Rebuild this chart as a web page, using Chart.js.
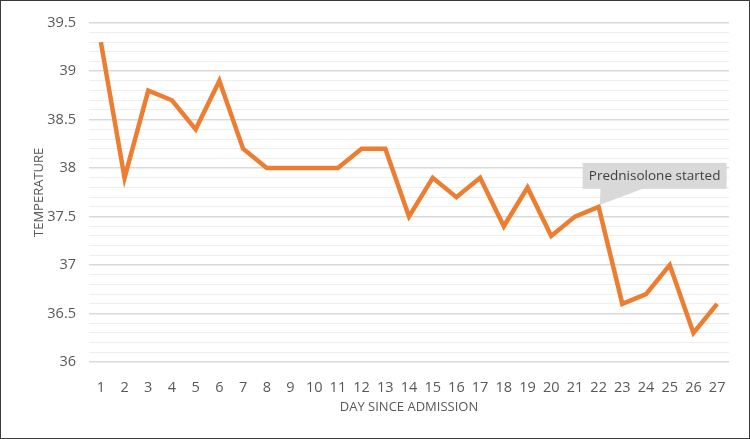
<!DOCTYPE html>
<html>
<head>
<meta charset="utf-8">
<script src="https://cdn.jsdelivr.net/npm/chart.js@4/dist/chart.umd.min.js"></script>
<style>
  html, body { margin: 0; padding: 0; background: #fff; }
  #wrap { width: 750px; height: 439px; box-sizing: border-box; border: 1px solid #3a3a3a; position: relative; }
  canvas { display: block; }
</style>
</head>
<body>
<div id="wrap"><canvas id="tempChart" width="748" height="437"></canvas></div>
<script>
// days since admission
const days = ['1','2','3','4','5','6','7','8','9','10','11','12','13','14','15','16','17','18','19','20','21','22','23','24','25','26','27'];
// temperature readings
const temps = [39.3, 37.9, 38.8, 38.7, 38.4, 38.9, 38.2, 38.0, 38.0, 38.0, 38.0, 38.2, 38.2, 37.5, 37.9, 37.7, 37.9, 37.4, 37.8, 37.3, 37.5, 37.6, 36.6, 36.7, 37.0, 36.3, 36.6];
const yRange = [36, 39.5];
const noteText = 'Prednisolone started';
const noteIndex = 21;

const fontFam = "'Open Sans', 'Liberation Sans', sans-serif";

// callout box pointing at the day prednisolone started
const calloutPlugin = {
    id: 'callout',
    afterDatasetsDraw(chart) {
        const pt = chart.getDatasetMeta(0).data[noteIndex];
        if (!pt) return;
        const ctx = chart.ctx;
        const px = pt.x, py = pt.y;
        const left = px - 16, right = px + 128, top = py - 44, bottom = py - 18;
        ctx.save();
        ctx.fillStyle = '#d9d9d9';
        ctx.fillRect(left, top, right - left, bottom - top);
        ctx.beginPath();
        ctx.moveTo(px + 2, bottom - 1);
        ctx.lineTo(px + 46, bottom - 1);
        ctx.lineTo(px + 1, py - 2);
        ctx.closePath();
        ctx.fill();
        ctx.fillStyle = '#404040';
        ctx.font = '13.5px ' + fontFam;
        ctx.textAlign = 'center';
        ctx.textBaseline = 'middle';
        ctx.fillText(noteText, (left + right) / 2, (top + bottom) / 2);
        ctx.restore();
    }
};

new Chart(document.getElementById('tempChart'), {
    type: 'line',
    data: {
        labels: days,
        datasets: [{
            data: temps,
            borderColor: '#ED7D31',
            borderWidth: 4.5,
            pointRadius: 0,
            tension: 0,
            borderJoinStyle: 'miter',
            fill: false
        }]
    },
    options: {
        responsive: false,
        animation: false,
        layout: { padding: { top: 12, right: 20, left: 26, bottom: 19 } },
        plugins: { legend: { display: false }, tooltip: { enabled: false } },
        scales: {
            x: {
                offset: true,
                grid: { display: false },
                border: { display: false },
                ticks: { color: '#595959', font: { family: fontFam, size: 14.5 }, padding: 9, maxRotation: 0, autoSkip: false },
                title: { display: true, text: 'DAY SINCE ADMISSION', color: '#595959', font: { family: fontFam, size: 13 }, padding: { top: 3 } },
                afterFit(scale) { scale.height = 57; }
            },
            y: {
                min: yRange[0],
                max: yRange[1],
                border: { display: false },
                grid: {
                    drawTicks: false,
                    color: ctx => (Math.round(ctx.tick.value * 10) % 5 === 0) ? '#d9d9d9' : '#eeeeee',
                    lineWidth: ctx => (Math.round(ctx.tick.value * 10) % 5 === 0) ? 1.5 : 1
                },
                ticks: {
                    stepSize: 0.1,
                    color: '#595959',
                    font: { family: fontFam, size: 14.5 },
                    padding: 13,
                    autoSkip: false,
                    callback: v => (Math.round(v * 10) % 5 === 0) ? String(Math.round(v * 10) / 10) : ''
                },
                title: { display: true, text: 'TEMPERATURE', color: '#595959', font: { family: fontFam, size: 13 } },
                afterFit(scale) { scale.width = 62; }
            }
        }
    },
    plugins: [calloutPlugin]
});
</script>
</body>
</html>
